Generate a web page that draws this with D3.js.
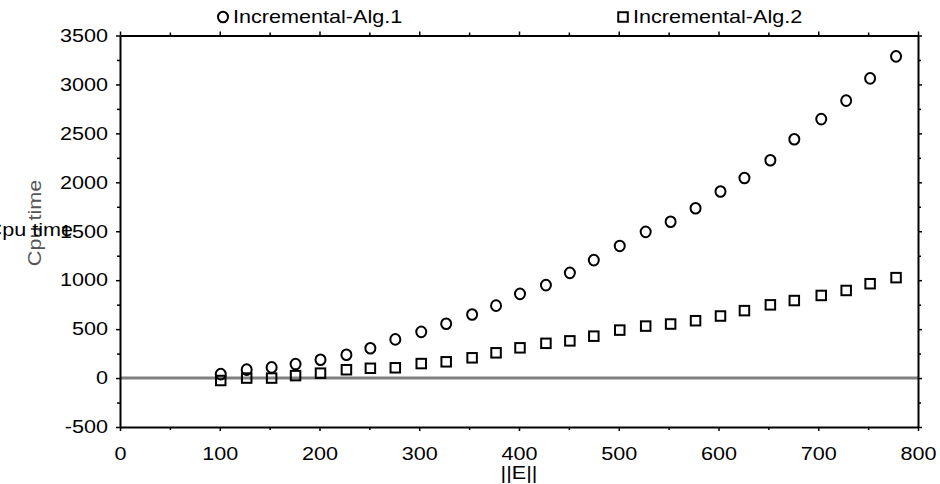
<!DOCTYPE html>
<html>
<head>
<meta charset="utf-8">
<script src="https://cdn.jsdelivr.net/npm/d3@7"></script>
<style>
  html, body { margin: 0; padding: 0; background: #fff; }
  svg { display: block; }
  text { font-family: "Liberation Sans", Arial, sans-serif; }
</style>
</head>
<body>
<svg id="chart" width="940" height="484"></svg>
<script>
// ---- data ----
const edges = [101,127,152,176,201,227,251,276,302,327,353,377,401,427,451,475,501,527,552,577,602,626,652,676,703,728,752,778];
const alg1  = [40,86,109,143,187,238,305,395,472,555,650,740,860,950,1075,1205,1350,1494,1597,1735,1906,2044,2226,2440,2646,2835,3062,3287];
const alg2  = [-25,0,0,25,50,85,100,105,148,166,207,258,309,355,380,428,490,531,552,586,634,689,748,792,844,895,964,1026];
const seriesNames = ["Incremental-Alg.1", "Incremental-Alg.2"];
const xTicks = [0,100,200,300,400,500,600,700,800];
const xMinor = [50,150,250,350,450,550,650,750];
const yTicks = [-500,0,500,1000,1500,2000,2500,3000,3500];
const yMinor = [-250,250,750,1250,1750,2250,2750,3250];
const xLabel = "||E||";
const yLabel = "Cpu time";

// ---- layout ----
const L = 120, R = 918, T = 35.5, B = 427;
const FS = 18, SX = 1.2;
const svg = d3.select("#chart");
const x = d3.scaleLinear().domain([0, 800]).range([L, R]);
const y = d3.scaleLinear().domain([-500, 3500]).range([B, T]);
const fmt = d => String(d);

function stretch(sel, ox) {
  sel.style("transform-box", "fill-box")
     .style("transform-origin", ox + " 50%")
     .style("transform", "scaleX(" + SX + ")");
}

// zero line
svg.append("line")
  .attr("x1", x(0)).attr("x2", x(800))
  .attr("y1", y(0)).attr("y2", y(0))
  .attr("stroke", "#808080").attr("stroke-width", 3);

function styleAxis(g) {
  g.select(".domain").attr("stroke", "#000").attr("stroke-width", 2);
  g.selectAll(".tick line").attr("stroke", "#000").attr("stroke-width", 1.5);
  g.selectAll("text").attr("font-size", FS).attr("fill", "#000")
    .attr("font-family", "Liberation Sans, Arial, sans-serif");
}
function minor(g) {
  g.select(".domain").remove();
  g.selectAll("line").attr("stroke", "#000").attr("stroke-width", 1.5);
}

// bottom axis
const gb = svg.append("g").attr("transform", `translate(0,${B})`)
  .call(d3.axisBottom(x).tickValues(xTicks).tickFormat(fmt).tickSize(4).tickPadding(16).tickSizeOuter(0));
styleAxis(gb);
stretch(gb.selectAll("text"), "50%");
svg.append("g").attr("transform", `translate(0,${B})`)
  .call(d3.axisBottom(x).tickValues(xMinor).tickSize(3).tickFormat("")).call(minor);

// top axis
const gt = svg.append("g").attr("transform", `translate(0,${T})`)
  .call(d3.axisTop(x).tickValues(xTicks).tickSize(4).tickFormat("").tickSizeOuter(0));
styleAxis(gt);
svg.append("g").attr("transform", `translate(0,${T})`)
  .call(d3.axisTop(x).tickValues(xMinor).tickSize(3).tickFormat("")).call(minor);

// left axis
const gl = svg.append("g").attr("transform", `translate(${L},0)`)
  .call(d3.axisLeft(y).tickValues(yTicks).tickFormat(fmt).tickSize(4).tickPadding(8).tickSizeOuter(0));
styleAxis(gl);
stretch(gl.selectAll("text"), "100%");
svg.append("g").attr("transform", `translate(${L},0)`)
  .call(d3.axisLeft(y).tickValues(yMinor).tickSize(3).tickFormat("")).call(minor);

// right axis
const gr = svg.append("g").attr("transform", `translate(${R},0)`)
  .call(d3.axisRight(y).tickValues(yTicks).tickSize(4).tickFormat("").tickSizeOuter(0));
styleAxis(gr);
svg.append("g").attr("transform", `translate(${R},0)`)
  .call(d3.axisRight(y).tickValues(yMinor).tickSize(3).tickFormat("")).call(minor);

// data
const d1 = edges.map((e, i) => ({ e, v: alg1[i] }));
const d2 = edges.map((e, i) => ({ e, v: alg2[i] }));
const SQ = 9.5, CR = 5;

svg.append("g").selectAll("rect").data(d2).join("rect")
  .attr("x", d => x(d.e) - SQ / 2).attr("y", d => y(d.v) - SQ / 2)
  .attr("width", SQ).attr("height", SQ)
  .attr("fill", "none").attr("stroke", "#000").attr("stroke-width", 2);

svg.append("g").selectAll("ellipse").data(d1).join("ellipse")
  .attr("cx", d => x(d.e)).attr("cy", d => y(d.v))
  .attr("rx", CR).attr("ry", CR + 0.3)
  .attr("fill", "none").attr("stroke", "#000").attr("stroke-width", 2);

// legend
const lg1 = svg.append("g").attr("transform", "translate(223,17)");
lg1.append("ellipse").attr("rx", CR).attr("ry", CR + 0.3)
  .attr("fill", "none").attr("stroke", "#000").attr("stroke-width", 2);
const lt1 = lg1.append("text").attr("x", 10).attr("y", 6).attr("font-size", FS).text(seriesNames[0]);
stretch(lt1, "0%");

const lg2 = svg.append("g").attr("transform", "translate(623,17)");
lg2.append("rect").attr("x", -SQ/2).attr("y", -SQ/2).attr("width", SQ).attr("height", SQ)
  .attr("fill", "none").attr("stroke", "#000").attr("stroke-width", 2);
const lt2 = lg2.append("text").attr("x", 10).attr("y", 6).attr("font-size", FS).text(seriesNames[1]);
stretch(lt2, "0%");

// axis titles
const xt = svg.append("text").attr("x", (L + R) / 2).attr("y", 479)
  .attr("text-anchor", "middle").attr("font-size", FS).text(xLabel);
stretch(xt, "50%");

const yv = svg.append("g").attr("transform", "translate(41,223) rotate(-90)")
  .append("text").attr("text-anchor", "middle").attr("font-size", FS)
  .attr("fill", "#555").text(yLabel);
stretch(yv, "50%");

// stray horizontal copy of the y title, partly off the left edge (as in the reference)
const yh = svg.append("text").attr("x", 73).attr("y", 236)
  .attr("text-anchor", "end").attr("font-size", FS).attr("fill", "#000").text(yLabel);
stretch(yh, "100%");
</script>
</body>
</html>
